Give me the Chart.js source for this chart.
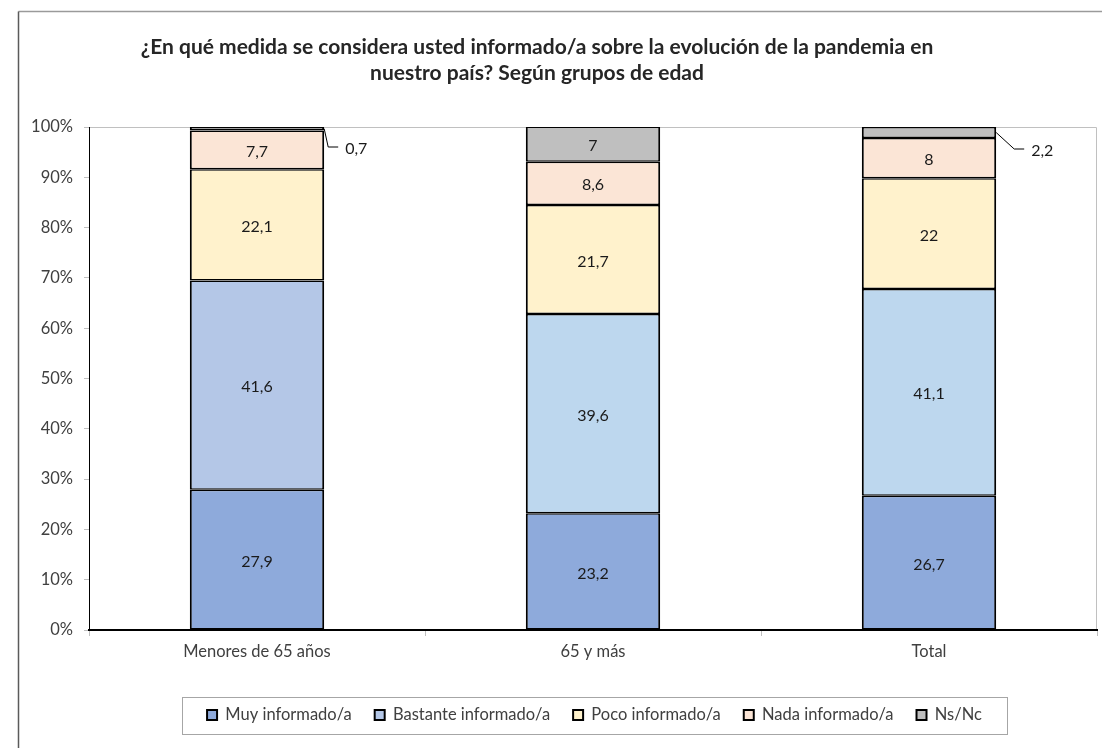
<!DOCTYPE html>
<html lang="es">
<head>
<meta charset="utf-8">
<title>Información sobre la pandemia según grupos de edad</title>
<script src="https://cdn.jsdelivr.net/npm/chart.js@4/dist/chart.umd.min.js"></script>
<style>
  html, body { margin: 0; padding: 0; background: #fff; }
  #wrap { width: 1102px; height: 748px; position: relative; }
</style>
</head>
<body>
<div id="wrap"><canvas id="chart" width="1102" height="748"></canvas></div>
<script>
// datos (porcentajes)
const categorias = ["Menores de 65 años", "65 y más", "Total"];
const muyInformado = [27.9, 23.2, 26.7];
const bastanteInformado = [41.6, 39.6, 41.1];
const pocoInformado = [22.1, 21.7, 22];
const nadaInformado = [7.7, 8.6, 8];
const nsNc = [0.7, 7, 2.2];
const ticksY = [0, 10, 20, 30, 40, 50, 60, 70, 80, 90, 100];

const titulo = [
  "¿En qué medida se considera usted informado/a sobre la evolución de la pandemia en",
  "nuestro país? Según grupos de edad"
];

const FONT = "Lato, 'Open Sans', sans-serif";
const TXT = "#404040";

// valores pequeños se etiquetan con línea guía fuera de la barra
const calloutOffsets = { 0: [4, 20], 2: [18, 22] };

function fmt(v) {
  return String(v).replace(".", ",");
}

const marco = {
  id: "marco",
  beforeDraw(chart) {
    const ctx = chart.ctx;
    const a = chart.chartArea;
    ctx.save();
    // borde del área del gráfico
    ctx.lineWidth = 1.5;
    ctx.strokeStyle = "#9a9a9a";
    ctx.beginPath();
    ctx.moveTo(18.5, 11.5);
    ctx.lineTo(chart.width, 11.5);
    ctx.stroke();
    ctx.strokeStyle = "#5a5a5a";
    ctx.beginPath();
    ctx.moveTo(18.5, chart.height);
    ctx.lineTo(18.5, 11.5);
    ctx.stroke();
    // borde del área de trazado (arriba y derecha)
    ctx.lineWidth = 1;
    ctx.strokeStyle = "#c0c0c0";
    ctx.beginPath();
    ctx.moveTo(a.left, a.top + 0.5);
    ctx.lineTo(a.right - 0.5, a.top + 0.5);
    ctx.lineTo(a.right - 0.5, a.bottom);
    ctx.stroke();
    // título
    ctx.fillStyle = "#262626";
    ctx.font = "bold 21px " + FONT;
    ctx.textAlign = "center";
    ctx.textBaseline = "middle";
    ctx.fillText(titulo[0], 537, 47);
    ctx.fillText(titulo[1], 537, 73);
    ctx.restore();
  },
  afterLayout(chart) {
    // la leyenda de Excel no está centrada en el lienzo
    chart.legend.left += 37;
    chart.legend.right += 37;
  },
  afterDraw(chart) {
    const lg = chart.legend;
    if (!lg || !lg.legendHitBoxes.length) return;
    const hb = lg.legendHitBoxes;
    const l = Math.min(...hb.map(h => h.left)) - 25;
    const r = Math.max(...hb.map(h => h.left + h.width)) + 25;
    const t = hb[0].top - 10;
    const ctx = chart.ctx;
    ctx.save();
    ctx.strokeStyle = "#a6a6a6";
    ctx.lineWidth = 1;
    ctx.strokeRect(Math.round(l) + 0.5, Math.round(t) + 0.5, Math.round(r - l), 37);
    ctx.restore();
  }
};

const etiquetas = {
  id: "etiquetas",
  afterDatasetsDraw(chart) {
    const ctx = chart.ctx;
    ctx.save();
    ctx.font = "16px " + FONT;
    ctx.fillStyle = "#1a1a1a";
    ctx.textBaseline = "middle";
    chart.data.datasets.forEach((ds, di) => {
      const meta = chart.getDatasetMeta(di);
      meta.data.forEach((el, i) => {
        const v = ds.data[i];
        if (v < 3 && calloutOffsets[i]) {
          const [dx, dy] = calloutOffsets[i];
          const x0 = el.x + el.width / 2;
          const y0 = (el.y + el.base) / 2;
          const x1 = x0 + dx;
          const y1 = el.y + dy;
          ctx.strokeStyle = "#000";
          ctx.lineWidth = 1;
          ctx.beginPath();
          ctx.moveTo(x0, y0);
          ctx.lineTo(x1, y1);
          ctx.lineTo(x1 + 10, y1);
          ctx.stroke();
          ctx.textAlign = "left";
          ctx.fillText(fmt(v), x1 + 17, y1 + 2);
        } else {
          ctx.textAlign = "center";
          ctx.fillText(fmt(v), el.x, (el.y + el.base) / 2 + 2);
        }
      });
    });
    ctx.restore();
  }
};

function serie(label, data, color) {
  return {
    label: label,
    data: data,
    backgroundColor: color,
    borderColor: "#000",
    borderWidth: { top: 1.5, bottom: 1.5, left: 2, right: 2 },
    borderSkipped: false,
    barPercentage: 0.4,
    categoryPercentage: 1
  };
}

new Chart(document.getElementById("chart"), {
  type: "bar",
  data: {
    labels: categorias,
    datasets: [
      serie("Muy informado/a", muyInformado, "#8eaadb"),
      serie("Bastante informado/a", bastanteInformado,
        c => (c.dataIndex === 0 ? "#b4c7e7" : "#bdd7ee")),
      serie("Poco informado/a", pocoInformado, "#fff2cc"),
      serie("Nada informado/a", nadaInformado, "#fbe5d6"),
      serie("Ns/Nc", nsNc, "#bfbfbf")
    ]
  },
  options: {
    responsive: false,
    animation: false,
    layout: { padding: { left: 18, right: 5, top: 127, bottom: 14.75 } },
    scales: {
      x: {
        stacked: true,
        grid: { drawOnChartArea: false, tickLength: 6, color: "#bfbfbf" },
        border: { color: "#000", width: 2 },
        ticks: { color: TXT, font: { family: FONT, size: 16.5 }, padding: 6 },
        afterFit(s) { s.height = 53.75; }
      },
      y: {
        stacked: true,
        min: 0,
        max: 100,
        afterBuildTicks(s) { s.ticks = ticksY.map(v => ({ value: v })); },
        grid: { drawOnChartArea: false, tickLength: 5, color: "#bfbfbf" },
        border: { color: "#000", width: 1 },
        ticks: {
          color: TXT,
          font: { family: FONT, size: 16.5 },
          padding: 11,
          callback: v => v + "%"
        },
        afterFit(s) { s.width = 71; }
      }
    },
    plugins: {
      legend: {
        position: "bottom",
        labels: {
          boxWidth: 10,
          boxHeight: 10,
          padding: 23,
          color: TXT,
          font: { family: FONT, size: 16.5 },
          generateLabels(chart) {
            const items = Chart.defaults.plugins.legend.labels.generateLabels(chart);
            items.forEach(it => { it.lineWidth = 2; it.strokeStyle = "#000"; });
            return items;
          }
        }
      },
      tooltip: { enabled: false },
      title: { display: false }
    }
  },
  plugins: [marco, etiquetas]
});
</script>
</body>
</html>
